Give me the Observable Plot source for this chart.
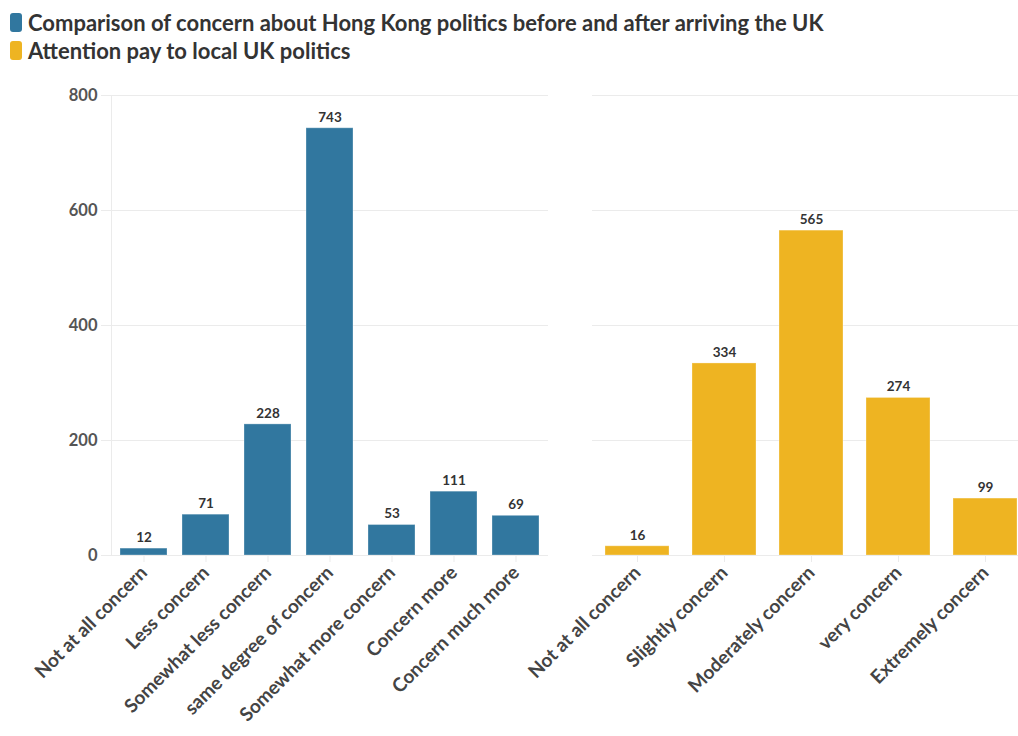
<!DOCTYPE html>
<html><head><meta charset="utf-8">
<script src="https://cdn.jsdelivr.net/npm/d3@7"></script>
<script src="https://cdn.jsdelivr.net/npm/@observablehq/plot@0.6"></script>
<style>
body{margin:0;width:1018px;height:736px;overflow:hidden;background:#fff;font-family:Lato,sans-serif;position:relative;}
#legend{position:absolute;left:10px;top:8px;}
.item{display:flex;align-items:center;font-weight:700;font-size:22px;color:#333;height:28px;}
.sw{width:12px;height:19px;border-radius:3px;margin-right:6px;}
#left{position:absolute;left:0;top:70px}
#right{position:absolute;left:548px;top:70px;width:481px}
svg{max-width:none !important;}
</style></head><body>
<div id="legend"></div>
<div id="left"></div>
<div id="right"></div>
<script>
const seriesNames = ["Comparison of concern about Hong Kong politics before and after arriving the UK", "Attention pay to local UK politics"];
const seriesColors = ["#31779f", "#eeb422"];
const leftCategories = ["Not at all concern", "Less concern", "Somewhat less concern", "same degree of concern", "Somewhat more concern", "Concern more", "Concern much more"];
const leftValues = [12, 71, 228, 743, 53, 111, 69];
const rightCategories = ["Not at all concern", "Slightly concern", "Moderately concern", "very concern", "Extremely concern"];
const rightValues = [16, 334, 565, 274, 99];
const yTicks = [0, 200, 400, 600, 800];

const legend = document.getElementById("legend");
seriesNames.forEach((n, i) => {
  const d = document.createElement("div"); d.className = "item";
  const s = document.createElement("span"); s.className = "sw"; s.style.background = seriesColors[i];
  d.appendChild(s); d.appendChild(document.createTextNode(n)); legend.appendChild(d);
});

const leftData = leftCategories.map((c, i) => ({cat: c, value: leftValues[i]}));
const rightData = rightCategories.map((c, i) => ({cat: c, value: rightValues[i]}));
const gridColor = "#ebebeb";

function panel(data, cats, color, opts) {
  const marks = [
    Plot.gridY({ticks: yTicks, stroke: gridColor, strokeOpacity: 1}),
    Plot.barY(data, {x: "cat", y: "value", fill: color, stroke: "white", strokeOpacity: 0.3, strokeWidth: 1}),
    Plot.text(data, {x: "cat", y: "value", text: d => String(d.value), dy: -11, fill: "#333", fontSize: 13.5, fontWeight: 700}),
    Plot.axisX({tickSize: 7, stroke: gridColor, fill: "#444", tickRotate: -45, fontSize: 19, fontWeight: 700, tickPadding: 7, label: null}),
    Plot.ruleY([0], {stroke: gridColor})
  ];
  if (opts.showY) {
    marks.push(Plot.axisY({ticks: yTicks, tickSize: 10, stroke: gridColor, fill: "#555", fontSize: 16.5, fontWeight: 700, tickPadding: 4, label: null}));
    marks.push(Plot.frame({anchor: "left", stroke: gridColor}));
  } else {
    marks.push(Plot.axisY({ticks: yTicks, tickSize: 0, tickFormat: () => "", label: null}));
  }
  return Plot.plot({
    width: opts.width, height: 666,
    marginLeft: opts.marginLeft, marginRight: 0, marginTop: 25, marginBottom: 181,
    style: {fontFamily: "Lato, sans-serif", background: "transparent", overflow: "visible", maxWidth: "none"},
    x: {domain: cats, paddingInner: opts.pad, paddingOuter: opts.pad / 2, label: null},
    y: {domain: [0, 800], label: null},
    marks
  });
}

document.getElementById("left").appendChild(panel(leftData, leftCategories, seriesColors[0], {width: 548, marginLeft: 111, showY: true, pad: 0.25}));
document.getElementById("right").appendChild(panel(rightData, rightCategories, seriesColors[1], {width: 481, marginLeft: 44, showY: false, pad: 0.265}));
</script>
</body></html>
